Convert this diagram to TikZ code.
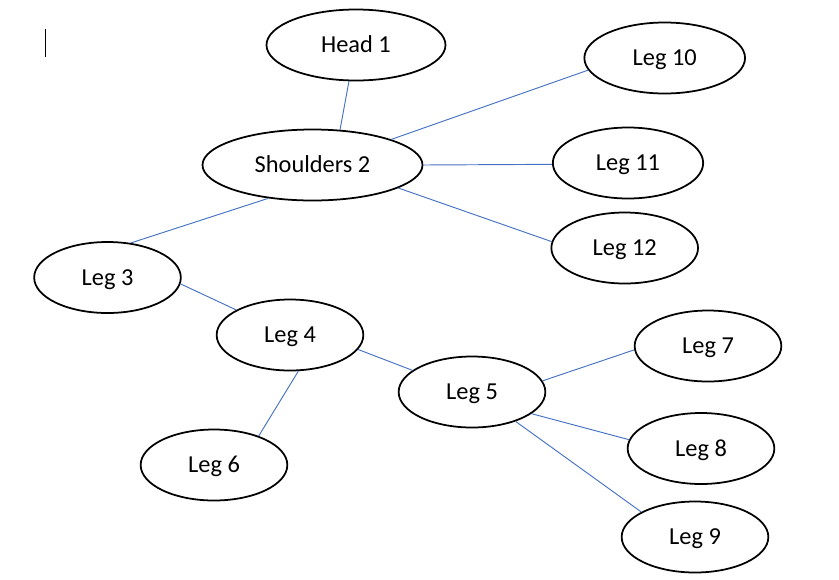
\documentclass[tikz,border=0pt]{standalone}
\usepackage{fontspec}
\setmainfont{Carlito}
\usetikzlibrary{shapes.geometric}
\definecolor{linkblue}{HTML}{4472C4}

\begin{document}
\begin{tikzpicture}[x = 0.03cm, y = -0.03cm, minimum height = 2.13cm, minimum width = 4.4cm,
	main/.style = {draw, ellipse, line width = 1.5pt, inner sep = 0pt, text height = 13.3pt, text depth = 0pt,
		font = \fontsize{20.8}{24}\selectfont},
	edge/.style = {draw = linkblue, line width = 0.8pt}]
	\useasboundingbox (0,0) rectangle (839,579);
	\draw[line width = 0.7pt] (45.3,29) -- (45.3,57);
	\node[main, minimum width = 5.37cm] (1) at (356,45) {Head 1};
	\node[main, minimum width = 6.6cm] (2) at (312.5,165) {Shoulders 2};
	\node[main] (3) at (107.5,277.5) {Leg 3};
	\node[main] (4) at (290,335) {Leg 4};
	\node[main] (5) at (472,392) {Leg 5};
	\node[main] (6) at (214,465) {Leg 6};
	\node[main] (7) at (708,346) {Leg 7};
	\node[main] (8) at (701,448.5) {Leg 8};
	\node[main] (9) at (695,537) {Leg 9};
	\node[main, minimum width = 4.82cm] (10) at (664.7,58) {Leg 10};
	\node[main, minimum width = 4.51cm] (11) at (628,163) {Leg 11};
	\node[main] (12) at (624.7,248) {Leg 12};
	\draw[edge] (1.259) -- (2.52);
	\draw[edge] (2.18) -- (10.189);
	\draw[edge] (2.east) -- (11.181);
	\draw[edge] (2.345) -- (12.175);
	\draw[edge] (2.217) -- (3.56);
	\draw[edge] (3.355) -- (4.155);
	\draw[edge] (4.348) -- (5.160);
	\draw[edge] (4.283) -- (6.33);
	\draw[edge] (5.9) -- (7.183);
	\draw[edge] (5.340) -- (8.173);
	\draw[edge] (5.326) -- (9.155);
\end{tikzpicture}
\end{document}
